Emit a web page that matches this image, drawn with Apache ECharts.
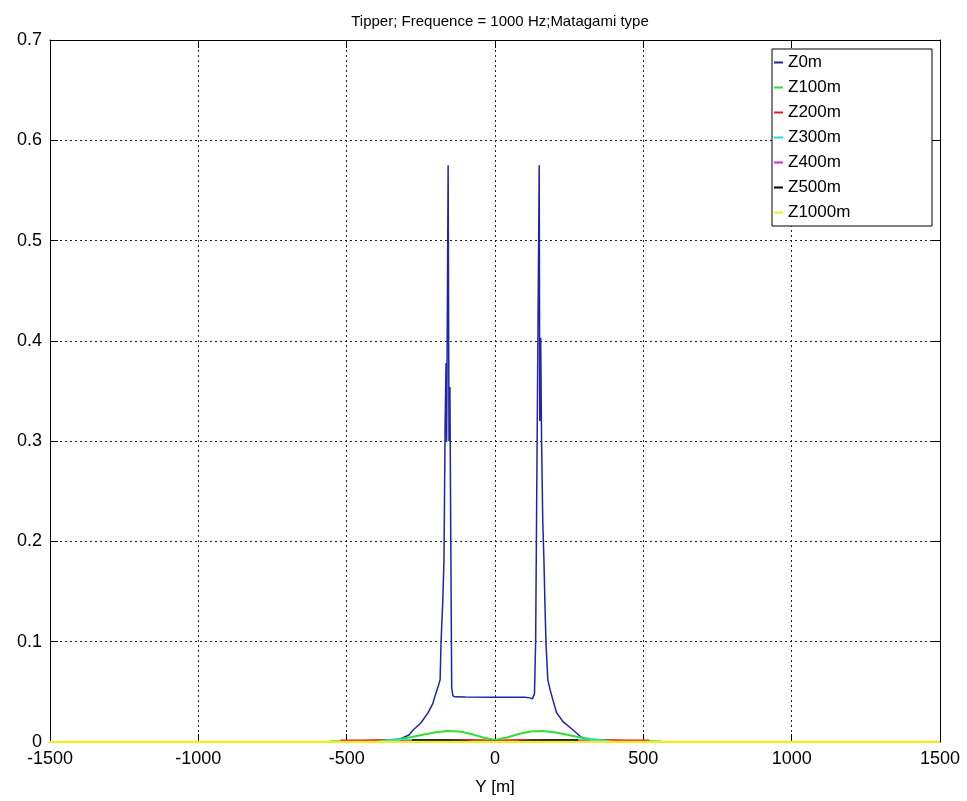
<!DOCTYPE html>
<html><head><meta charset="utf-8">
<script src="https://cdn.jsdelivr.net/npm/echarts@6/dist/echarts.min.js"></script>
<style>html,body{margin:0;padding:0;background:#fff}#c{width:967px;height:801px}</style>
</head><body><div id="c"></div>
<script>
const seriesNames = ['Z0m','Z100m','Z200m','Z300m','Z400m','Z500m','Z1000m'];
const seriesColors = ['#2222aa','#33dd33','#e02222','#22dddd','#dd22dd','#000000','#eeee22'];
const xTicks = [-1500, -1000, -500, 0, 500, 1000, 1500];
const yTicks = [0, 0.1, 0.2, 0.3, 0.4, 0.5, 0.6, 0.7];

const z0X = [-1500,-420,-360,-320,-290,-276,-250,-226,-210,-202,-192,-185,-182,-179,-176,-172,-168,-165,-163,-161,-158,-155,-152,-149,-146,-142,-135,-100,0,100,118,126,133,137,142,149,151,154,157,161,165,168,172,178,186,195,208,230,263,290,310,350,420,1500];
const z0Y = [0,0,0.001,0.003,0.007,0.012,0.019,0.029,0.038,0.046,0.055,0.062,0.098,0.12,0.141,0.181,0.32,0.378,0.30,0.30,0.575,0.30,0.354,0.20,0.054,0.046,0.045,0.0448,0.0447,0.0446,0.044,0.043,0.048,0.1,0.3,0.575,0.32,0.403,0.3,0.22,0.181,0.141,0.098,0.062,0.052,0.042,0.029,0.02,0.012,0.005,0.002,0.001,0,0];

const z100X = [-560,-520,-480,-440,-400,-360,-320,-280,-240,-200,-160,-120,-80,-40,0,40,80,120,160,200,240,280,320,360,400,440,480,520,560];
const z100Y = [0.0005,0.001,0.001,0.0012,0.0015,0.002,0.003,0.005,0.0075,0.0098,0.011,0.0105,0.008,0.0045,0.002,0.0045,0.008,0.0105,0.011,0.0098,0.0075,0.005,0.003,0.002,0.0015,0.0012,0.001,0.001,0.0005];

const z200X = [-520,-480,-440,-400,-360,-320,-280,-240,-200,-160,-120,-80,-40,0,40,80,120,160,200,240,280,320,360,400,440,480,520];
const z200Y = [0.0015,0.0016,0.0016,0.0017,0.0017,0.0016,0.0015,0.0015,0.0015,0.0016,0.0018,0.002,0.0018,0.0008,0.0018,0.002,0.0018,0.0016,0.0015,0.0015,0.0015,0.0016,0.0017,0.0017,0.0016,0.0016,0.0015];

const z300X = [-400,-360,-320,-280,-240,-200,-160,-120,-80,-40,0,40,80,120,160,200,240,280,320,360,400];
const z300Y = [0,0.0018,0.0019,0.0019,0.0017,0.0012,0.0008,0.0005,0.0003,0.0002,0.0002,0.0002,0.0003,0.0005,0.0008,0.0012,0.0017,0.0019,0.0019,0.0018,0];

const z400X = [-320,-280,-240,-200,-160,-120,-80,-40,0,40,80,120,160,200,240,280,320];
const z400Y = [0.0008,0.001,0.001,0.001,0.0009,0.0006,0.0003,0.0002,0.0002,0.0002,0.0003,0.0006,0.0009,0.001,0.001,0.001,0.0008];

const z500X = [-280,-240,-200,-160,-120,-80,-40,0,40,80,120,160,200,240,280];
const z500Y = [0.0017,0.0018,0.0018,0.0017,0.0014,0.0006,0.0003,0.0002,0.0003,0.0006,0.0014,0.0017,0.0018,0.0018,0.0017];

const z1000X = [-1500,-1000,-500,0,500,1000,1500];
const z1000Y = [0,0,0,0,0,0,0];

const allX = [z0X,z100X,z200X,z300X,z400X,z500X,z1000X];
const allY = [z0Y,z100Y,z200Y,z300Y,z400Y,z500Y,z1000Y];
const widths = [1.5,2,2,2,2,2,2.5];

const font = "'Liberation Sans', Arial, Helvetica, sans-serif";
const chart = echarts.init(document.getElementById('c'), null, {renderer:'canvas'});

const gridLine = {show:true, lineStyle:{color:'#222', width:1, type:[2,3]}};
const mkX = (pos, labels) => ({
  type:'value', position:pos, min:xTicks[0], max:xTicks[xTicks.length-1], interval:500,
  axisLine:{show:true, onZero:false, lineStyle:{color:'#000', width:1}},
  axisTick:{show:true, inside:true, length:8, lineStyle:{color:'#000'}},
  axisLabel:{show:labels, color:'#000', fontSize:18, fontFamily:font, margin:8, formatter:v=>String(v)},
  splitLine: labels ? gridLine : {show:false},
  name: labels ? 'Y [m]' : '', nameLocation:'middle', nameGap:37,
  nameTextStyle:{color:'#000', fontSize:17, fontFamily:font}
});
const mkY = (pos, labels) => ({
  type:'value', position:pos, min:yTicks[0], max:yTicks[yTicks.length-1], interval:0.1,
  axisLine:{show:true, onZero:false, lineStyle:{color:'#000', width:1}},
  axisTick:{show:true, inside:true, length:8, lineStyle:{color:'#000'}},
  axisLabel:{show:labels, color:'#000', fontSize:18, fontFamily:font, margin:8, formatter:v=>String(Math.round(v*10)/10)},
  splitLine: labels ? gridLine : {show:false}
});

chart.setOption({
  animation:false,
  backgroundColor:'#fff',
  title:{text:'Tipper; Frequence = 1000 Hz;Matagami type', left:495, top:9, textAlign:'center',
    textStyle:{fontSize:15, fontWeight:'normal', color:'#000', fontFamily:font}},
  grid:{left:50, right:27, top:40, bottom:59, containLabel:false},
  xAxis:[mkX('bottom', true), mkX('top', false)],
  yAxis:[mkY('left', true), mkY('right', false)],
  legend:{
    orient:'vertical', left:772, top:49,
    padding:[3.5,4,3.5,2], itemGap:5, itemWidth:9, itemHeight:2,
    backgroundColor:'#fff', borderColor:'#000', borderWidth:1,
    icon:'rect',
    textStyle:{fontSize:17, fontFamily:font, color:'#000', lineHeight:20, width:140},
    data:seriesNames
  },
  series: seriesNames.map((n,i)=>({
    name:n, type:'line', xAxisIndex:0, yAxisIndex:0,
    data: allX[i].map((x,j)=>[x, allY[i][j]]),
    showSymbol:false, symbol:'none', smooth:false, clip:true,
    lineStyle:{color:seriesColors[i], width:widths[i]},
    itemStyle:{color:seriesColors[i]}
  }))
});
</script>
</body></html>
